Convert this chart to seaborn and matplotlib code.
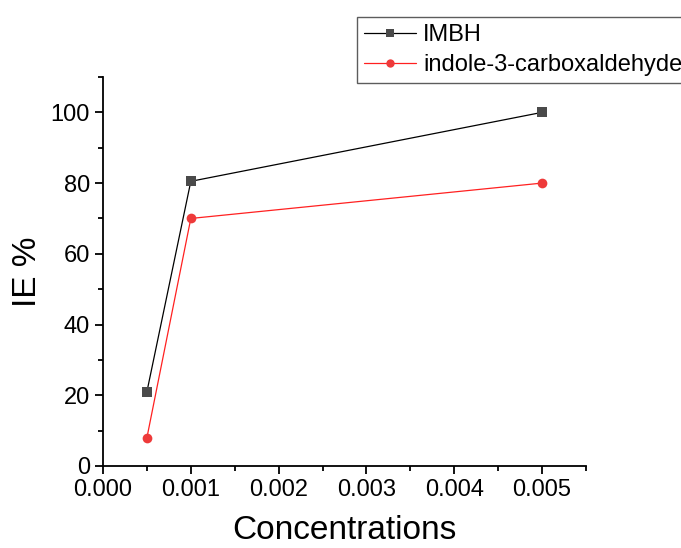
import matplotlib
matplotlib.use("Agg")
import matplotlib.pyplot as plt
import seaborn as sns
import pandas as pd
from matplotlib.ticker import MultipleLocator, FormatStrFormatter
from matplotlib.lines import Line2D

concentrations = [0.0005, 0.001, 0.005]
imbh = [21, 80.5, 100]
indole = [8, 70, 80]
series_names = ["IMBH", "indole-3-carboxaldehyde"]

df = pd.DataFrame({
    "Concentrations": concentrations * 2,
    "IE": imbh + indole,
    "series": [series_names[0]] * 3 + [series_names[1]] * 3,
})

sns.set_theme(style="ticks")
plt.rcParams["font.family"] = ["Liberation Sans", "DejaVu Sans"]
plt.rcParams["text.color"] = "black"
plt.rcParams["axes.labelcolor"] = "black"

fig = plt.figure(figsize=(6.81, 5.48), dpi=100)
ax = fig.add_axes([103 / 681, 1 - 466 / 548, (586 - 103) / 681, (466 - 77) / 548])

sns.lineplot(data=df, x="Concentrations", y="IE", hue="series", style="series",
             palette={series_names[0]: "#000000", series_names[1]: "#ff2020"},
             markers={series_names[0]: "s", series_names[1]: "o"},
             dashes=False, linewidth=0.9, markersize=7, markeredgewidth=0,
             ax=ax, legend=False)

lines = ax.get_lines()
lines[0].set_markerfacecolor("#4a4a4a")
lines[0].set_markeredgecolor("#4a4a4a")
lines[0].set_markersize(6.5)
lines[1].set_markerfacecolor("#ee3a3a")
lines[1].set_markeredgecolor("#ee3a3a")

ax.set_xlim(0, 0.0055)
ax.set_ylim(0, 110)
ax.xaxis.set_major_locator(MultipleLocator(0.001))
ax.xaxis.set_minor_locator(MultipleLocator(0.0005))
ax.xaxis.set_major_formatter(FormatStrFormatter("%.3f"))
ax.yaxis.set_major_locator(MultipleLocator(20))
ax.yaxis.set_minor_locator(MultipleLocator(10))

sns.despine(ax=ax)
for s in ["left", "bottom"]:
    ax.spines[s].set_linewidth(1.3)
    ax.spines[s].set_color("black")
ax.tick_params(which="major", direction="out", length=6, width=1.3, labelsize=17, colors="black")
ax.tick_params(which="minor", direction="out", length=3.5, width=1.3, colors="black")

ax.set_xlabel("Concentrations", fontsize=24, labelpad=10, color="black")
ax.set_ylabel("IE %", fontsize=24, labelpad=5, color="black")

handles = [
    Line2D([], [], color="#000000", lw=0.9, marker="s", markersize=5.5,
           markerfacecolor="#4a4a4a", markeredgewidth=0),
    Line2D([], [], color="#ff2020", lw=0.9, marker="o", markersize=6,
           markerfacecolor="#ee3a3a", markeredgewidth=0),
]
leg = fig.legend(handles, series_names, loc="upper left",
                 bbox_to_anchor=(357 / 681, 1 - 17 / 548), fontsize=17,
                 frameon=True, fancybox=False, handlelength=2.2, handletextpad=0.3,
                 borderpad=0.3, labelspacing=0.35, borderaxespad=0,
                 labelcolor="black")
leg.get_frame().set_edgecolor("#333333")
leg.get_frame().set_linewidth(1.0)

fig.savefig("out.png", dpi=100)
